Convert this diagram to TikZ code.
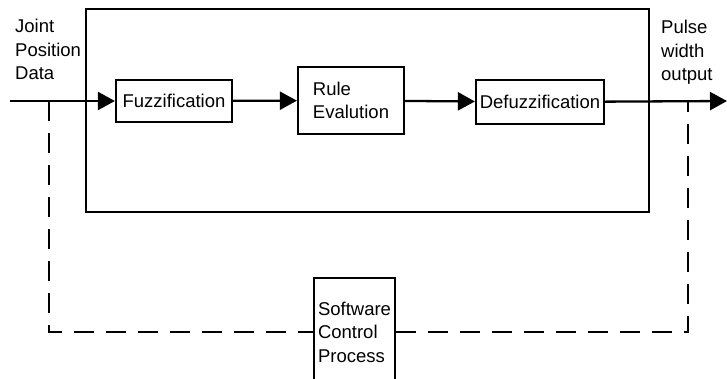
\documentclass[tikz,border=0pt]{standalone}
\usepackage{fontspec}
\setmainfont{Liberation Sans}
\usetikzlibrary{arrows.meta}

\tikzset{
  block/.style={draw, line width=2.2pt, inner sep=0pt, align=left,
    font=\fontsize{18.5}{23.5}\selectfont},
  label/.style={inner sep=0pt, anchor=north west, align=left,
    font=\fontsize{18.5}{23.5}\selectfont},
  flow/.style={line width=2.3pt, -{Triangle[length=17pt,width=18pt]}},
  dashline/.style={line width=2.2pt, dash pattern=on 20pt off 12pt}
}

\begin{document}
\begin{tikzpicture}[x=1pt, y=-1pt]
  \useasboundingbox (0,0) rectangle (727,378);
  \clip (0,0) rectangle (727,378);

  % controller frame and the three stages
  \node[block, minimum width=563pt, minimum height=203pt] (frame) at (367.5,110.5) {};
  \node[block, minimum width=116pt, minimum height=42pt] (fuzz) at (174,101) {Fuzzification};
  \node[block, minimum width=106pt, minimum height=67pt] (rule) at (351,100.5) {Rule\\Evalution};
  \node[block, minimum width=128pt, minimum height=44pt] (defuzz) at (540,102) {Defuzzification};
  \node[block, minimum width=81pt, minimum height=108pt] (soft) at (354.5,332) {Software\\Control\\Process};

  % labels
  \node[label] (inlab) at (15,19) {Joint\\Position\\Data};
  \node[label] (outlab) at (661,20) {Pulse\\width\\output};

  \coordinate (in) at (10,101);
  \coordinate (out) at (727,101);
  \coordinate (tapL) at (49,101);
  \coordinate (tapR) at (688,101);

  % signal path
  \draw[flow] (in) -- (fuzz);
  \draw[flow] (fuzz) -- (rule);
  \draw[flow] (rule) -- (defuzz);
  \draw[flow] (defuzz) -- (out);

  % software loop
  \draw[dashline] (tapL) |- (soft.west);
  \draw[dashline] (soft.east) -| (tapR);
\end{tikzpicture}
\end{document}
